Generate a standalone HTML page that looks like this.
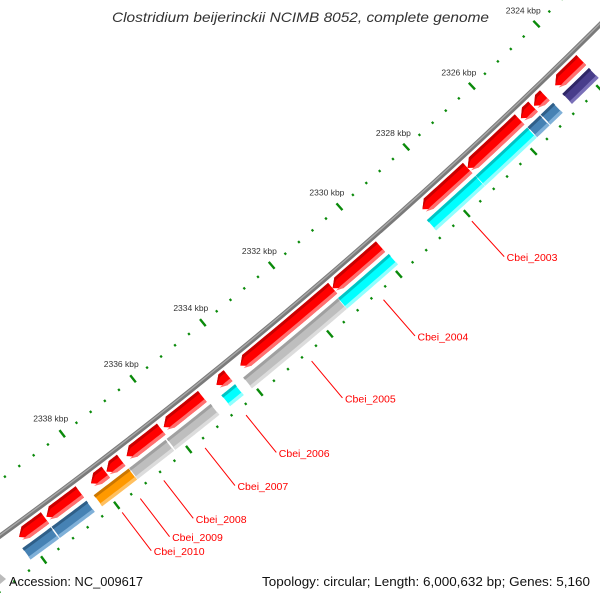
<!DOCTYPE html>
<html><head><meta charset="utf-8"><style>
html,body{margin:0;padding:0;background:#fff;width:600px;height:600px;overflow:hidden}
svg{display:block}
</style></head><body>
<svg id="map" width="600" height="600" viewBox="0 0 600 600" xmlns="http://www.w3.org/2000/svg">
<rect x="0" y="0" width="600" height="600" fill="#fff"/>
<g id="ticks"></g>
<g id="backbone"></g>
<g id="genes"></g>
<g id="labels"></g>
<text x="112" y="22" textLength="377" lengthAdjust="spacingAndGlyphs" font-family="Liberation Sans, sans-serif" font-style="italic" font-size="14" fill="#333">Clostridium beijerinckii NCIMB 8052, complete genome</text>
<text x="9" y="586" textLength="134" lengthAdjust="spacingAndGlyphs" font-family="Liberation Sans, sans-serif" font-size="12.5" fill="#111">Accession: NC_009617</text>
<text x="262" y="586" textLength="328" lengthAdjust="spacingAndGlyphs" font-family="Liberation Sans, sans-serif" font-size="12.5" fill="#111">Topology: circular; Length: 6,000,632 bp; Genes: 5,160</text>
<polygon points="0,574 6,579 0,584" fill="#bbb"/>
</svg>
<script>
// ---- data (kbp positions) ----
const arrowStart = [2323.85,2324.97,2325.33,2325.74,2327.31,2329.90,2331.30,2334.31,2335.04,2336.20,2337.32,2337.75,2338.47,2339.43];
const arrowEnd   = [2324.65,2325.30,2325.70,2327.31,2328.66,2331.30,2333.96,2334.64,2336.13,2337.17,2337.73,2338.16,2339.39,2340.14];
const blockStart = [2323.85,2324.95,2325.35,2325.74,2327.30,2329.87,2331.36,2334.31,2335.00,2336.27,2337.30,2338.47,2339.45];
const blockEnd   = [2324.67,2325.33,2325.73,2327.30,2328.75,2331.36,2334.08,2334.70,2336.24,2337.29,2338.27,2339.43,2340.23];
const blockCat   = ["purple","blue","blue","cyan","cyan","cyan","gray","cyan","gray","gray","orange","blue","blue"];
const labelNames = ["Cbei_2003","Cbei_2004","Cbei_2005","Cbei_2006","Cbei_2007","Cbei_2008","Cbei_2009","Cbei_2010"];
const labelKbp   = [2328.03,2330.62,2332.69,2334.55,2335.70,2336.85,2337.50,2338.00];
const tickLabels = [2324,2326,2328,2330,2332,2334,2336,2338];

// ---- geometry (circular map, centre off-canvas) ----
const CX=-3016, CY=-3610, RB=5127, K0=2324, A0=45.65, DEG_PER_KBP=0.505;
const NS='http://www.w3.org/2000/svg';
function ang(k){return (A0+(k-K0)*DEG_PER_KBP)*Math.PI/180;}
function pt(k,r){const a=ang(k);return [CX+r*Math.cos(a),CY+r*Math.sin(a)];}
function f(p){return p[0].toFixed(2)+','+p[1].toFixed(2);}
function arcPts(k1,k2,r,n){const a=[];for(let i=0;i<=n;i++){a.push(pt(k1+(k2-k1)*i/n,r));}return a;}
function mk(tag,attrs,parent){const e=document.createElementNS(NS,tag);for(const k in attrs)e.setAttribute(k,attrs[k]);parent.appendChild(e);return e;}

const colors={purple:["#483d8b","#2f2766","#7a70b8"],blue:["#4682b4","#2f5f88","#7fb0d8"],cyan:["#00ffff","#00c4c4","#8fffff"],gray:["#bebebe","#a0a0a0","#dcdcdc"],orange:["#ff9900","#cc7700","#ffc060"],red:["#ff0000","#c80000","#ff7070"]};

// ticks
const tg=document.getElementById('ticks');
for(let i=0;i<=50;i++){
  const k=2322+i*0.4;
  const major=(i%5===0);
  [RB-45,RB+45].forEach(function(r){
    const h=major?4.5:1.2;
    const t=mk('line',{x1:f(pt(k,r-h)).split(',')[0],y1:pt(k,r-h)[1],x2:pt(k,r+h)[0],y2:pt(k,r+h)[1],stroke:'#0a8a0a','stroke-width':major?2.4:2.2},tg);
    
    
  });
}
tickLabels.forEach(function(k){
  const p=pt(k,RB-64);
  const t=mk('text',{x:p[0],y:p[1]+3,'text-anchor':'middle','font-family':'Liberation Sans, sans-serif','font-size':'8.5',fill:'#333'},tg);
  t.textContent=k+' kbp';
  
  
});

// backbone
const bg=document.getElementById('backbone');
const bb=arcPts(2320,2342,RB,60).map(f).join(' ');
const b1=mk('polyline',{points:bb,fill:'none',stroke:'#7a7a7a','stroke-width':5},bg);


const b2=mk('polyline',{points:arcPts(2320,2342,RB-0.8,60).map(f).join(' '),fill:'none',stroke:'#a8a8a8','stroke-width':1.4},bg);



// genes
const gg=document.getElementById('genes');
const R1o=RB+5, R1i=RB+19, R2o=RB+23, R2i=RB+37, HEAD=0.18;
arrowStart.forEach(function(s,i){
  const e=arrowEnd[i];
  const hk=Math.max(s,e-Math.min(HEAD,(e-s)*0.6));
  const rm=(R1o+R1i)/2;
  function shape(ro,ri){
    const pts=arcPts(s,hk,ro,12).concat([pt(e,rm)]).concat(arcPts(hk,s,ri,12));
    return pts.map(f).join(' ');
  }
  const grp=mk('g',{},gg);
  
  
  const c=colors.red;
  mk('polygon',{points:shape(R1o,R1i),fill:c[0]},grp);
  // outer dark strip and inner light strip
  const ptsD=arcPts(s,hk,R1o,12).concat([pt(e,rm)]).concat(arcPts(hk,s,R1o+3,12));
  mk('polygon',{points:ptsD.map(f).join(' '),fill:c[1]},grp);
  const ptsL=arcPts(s,hk,R1i-3.5,12).concat([pt(e-0.02,rm+4)]).concat(arcPts(hk,s,R1i,12));
  mk('polygon',{points:ptsL.map(f).join(' '),fill:c[2]},grp);
});
blockStart.forEach(function(s,i){
  const e=blockEnd[i];
  const c=colors[blockCat[i]];
  const grp=mk('g',{},gg);
  
  
  mk('polygon',{points:arcPts(s,e,R2o,12).concat(arcPts(e,s,R2i,12)).map(f).join(' '),fill:c[0],stroke:'#fff','stroke-width':0.6},grp);
  mk('polygon',{points:arcPts(s,e,R2o,12).concat(arcPts(e,s,R2o+3,12)).map(f).join(' '),fill:c[1]},grp);
  mk('polygon',{points:arcPts(s,e,R2i-3.5,12).concat(arcPts(e,s,R2i,12)).map(f).join(' '),fill:c[2]},grp);
});

// labels
const lg=document.getElementById('labels');
labelNames.forEach(function(n,i){
  const k=labelKbp[i];
  const a=pt(k,RB+54), b=pt(k,RB+102);
  const l=mk('line',{x1:a[0],y1:a[1],x2:b[0],y2:b[1],stroke:'#ff0000','stroke-width':1},lg);
  
  
  const t=mk('text',{x:b[0]+2.5,y:b[1]+4.5,'font-family':'Liberation Sans, sans-serif','font-size':'10.5',fill:'#ff0000'},lg);
  t.textContent=n;
  
  
});
</script>
</body></html>
